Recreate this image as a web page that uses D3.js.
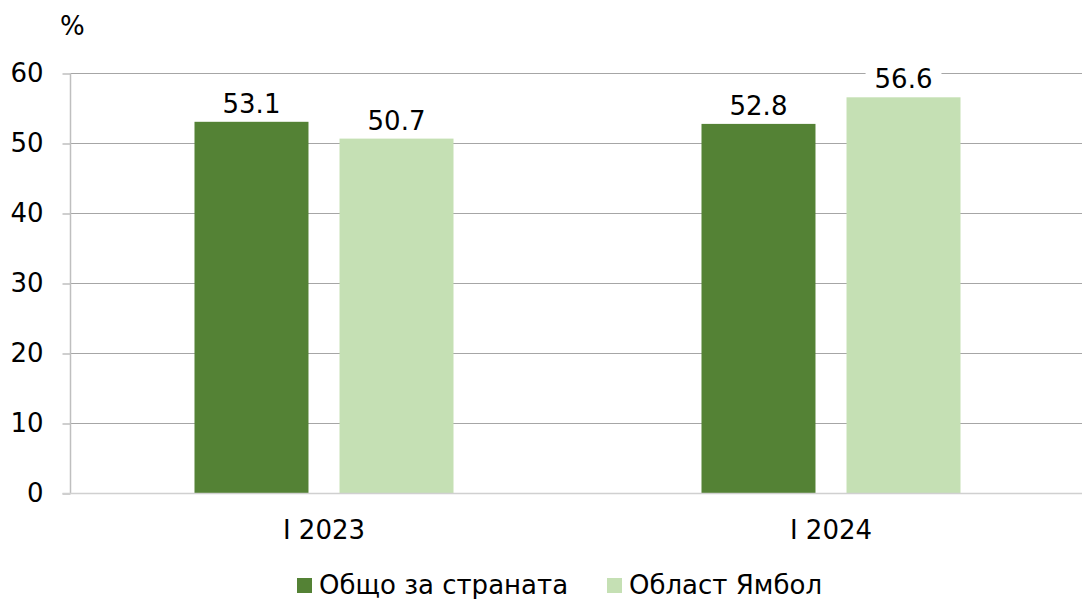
<!DOCTYPE html>
<html>
<head>
<meta charset="utf-8">
<script src="https://cdn.jsdelivr.net/npm/d3@7"></script>
<style>
	body { margin: 0; background: #fff; }
	svg { display: block; font-family: "DejaVu Sans", Verdana, sans-serif; }
</style>
</head>
<body>
<div id="chart"></div>
<script>
// chart data
var categories = ["I 2023", "I 2024"];
var seriesNames = ["Общо за страната", "Област Ямбол"];
var countryValues = [53.1, 52.8];
var regionValues = [50.7, 56.6];
var yTicks = [0, 10, 20, 30, 40, 50, 60];
var colors = ["#548235", "#c5e0b4"];

var width = 1082, height = 599;
var plotLeft = 70.5, plotRight = 1084.5, plotTop = 73.5, plotBottom = 493.5;
var fontSize = "26px";

var svg = d3.select("#chart").append("svg")
	.attr("width", width)
	.attr("height", height);

var x = d3.scaleBand().domain(categories).range([plotLeft, plotRight]);
var x1 = d3.scaleBand().domain(seriesNames).range([0, x.bandwidth()]).paddingInner(0.214).paddingOuter(0.855);
var y = d3.scaleLinear().domain([0, 60]).range([plotBottom, plotTop]);

//gridlines
svg.append("g").selectAll("line").data(yTicks.filter(function(d) { return d > 0; }))
	.enter().append("line")
	.attr("x1", plotLeft).attr("x2", width)
	.attr("y1", function(d) { return y(d); }).attr("y2", function(d) { return y(d); })
	.attr("stroke", "#a6a6a6").attr("stroke-width", 1.2);

//y axis
var yAxis = svg.append("g")
	.attr("transform", "translate(" + plotLeft + ",0)")
	.call(d3.axisLeft(y).tickValues(yTicks).tickSize(8).tickPadding(19));
yAxis.select(".domain").attr("stroke", "#bfbfbf").attr("stroke-width", 1.5).attr("d", "M0," + plotTop + "V" + plotBottom);
yAxis.selectAll(".tick line").attr("stroke", "#bfbfbf").attr("stroke-width", 1.5);
yAxis.selectAll("text").attr("font-size", fontSize).attr("fill", "#000").attr("font-family", "DejaVu Sans");

var rows = categories.map(function(c, i) {
	return { cat: c, vals: [countryValues[i], regionValues[i]] };
});

var groups = svg.append("g").selectAll("g").data(rows).enter().append("g")
	.attr("transform", function(d) { return "translate(" + x(d.cat) + ",0)"; });

groups.selectAll("rect").data(function(d) { return d.vals; }).enter().append("rect")
	.attr("x", function(d, i) { return x1(seriesNames[i]); })
	.attr("width", x1.bandwidth())
	.attr("y", function(d) { return y(d); })
	.attr("height", function(d) { return plotBottom - y(d); })
	.attr("fill", function(d, i) { return colors[i]; });

// value labels sit on a white box that hides the gridline behind them
var labels = groups.selectAll("g.lbl").data(function(d) { return d.vals; }).enter().append("g")
	.attr("class", "lbl");
labels.append("rect").attr("fill", "#fff");
labels.append("text")
	.attr("x", function(d, i) { return x1(seriesNames[i]) + x1.bandwidth() / 2; })
	.attr("y", function(d) { return y(d) - 9; })
	.attr("text-anchor", "middle")
	.attr("font-size", fontSize)
	.text(function(d) { return d.toFixed(1); });
labels.each(function() {
	var g = d3.select(this);
	var b = g.select("text").node().getBBox();
	g.select("rect").attr("x", b.x - 9).attr("y", b.y).attr("width", b.width + 18).attr("height", b.height);
});

// zero line (x axis)
svg.append("line")
	.attr("x1", plotLeft - 8).attr("x2", width)
	.attr("y1", plotBottom).attr("y2", plotBottom)
	.attr("stroke", "#d0d0d0").attr("stroke-width", 1.5);

// category labels
svg.append("g").selectAll("text").data(categories).enter().append("text")
	.attr("x", function(d) { return x(d) + x.bandwidth() / 2; })
	.attr("y", 539)
	.attr("text-anchor", "middle")
	.attr("font-size", fontSize)
	.text(function(d) { return d; });

// unit label
svg.append("text").attr("x", 60).attr("y", 35).attr("font-size", fontSize).text("%");

// legend
var legendX = [297, 607];
var legend = svg.append("g").selectAll("g").data(seriesNames).enter().append("g")
	.attr("transform", function(d, i) { return "translate(" + legendX[i] + ",578)"; });
legend.append("rect").attr("width", 15).attr("height", 15)
	.attr("fill", function(d, i) { return colors[i]; });
legend.append("text").attr("x", 22).attr("y", 16).attr("font-size", fontSize)
	.text(function(d) { return d; });
</script>
</body>
</html>
